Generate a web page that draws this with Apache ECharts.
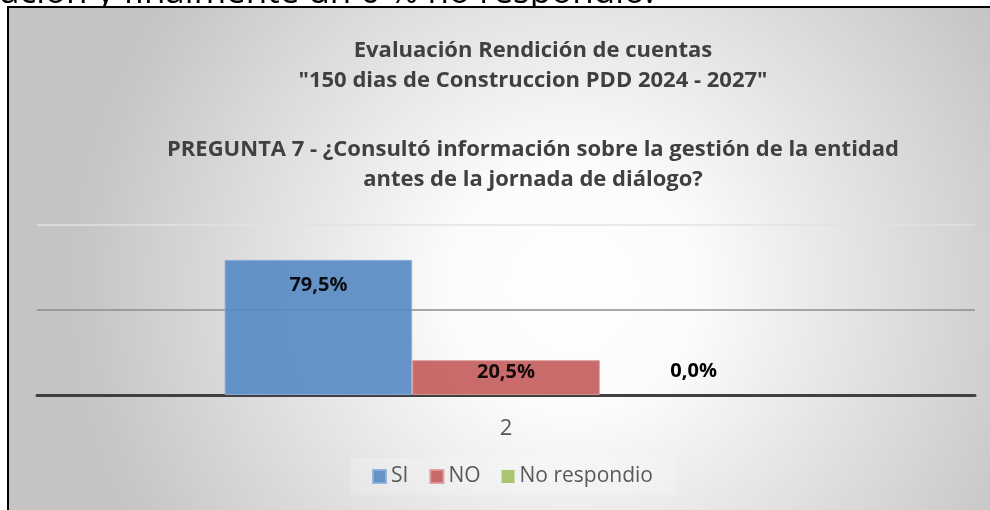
<!doctype html>
<html>
    <head>
        <meta charset="utf-8">
        <title>Pregunta 7 - ECHARTS</title>
        <style>
            html, body { margin: 0; padding: 0; background: #fff; }
            #main { width: 990px; height: 510px; }
        </style>
    </head>
    <body>
        <div id="main"></div>
        <script src="https://cdn.jsdelivr.net/npm/echarts@6/dist/echarts.min.js"></script>
        <script>
            var categories = ['2'];
            var seriesNames = ['SI', 'NO', 'No respondio'];
            var siValues = [79.5];
            var noValues = [20.5];
            var nrValues = [0];
            var yTicks = [0, 50, 100];

            var titleLines = [
                'Evaluación Rendición de cuentas',
                '"150 dias de Construccion PDD 2024 - 2027"',
                'PREGUNTA 7 - ¿Consultó información sobre la gestión de la entidad',
                'antes de la jornada de diálogo?'
            ];
            var topText = 'ación y finalmente un 0 % no respondio.';

            var FONT = "'Open Sans', sans-serif";
            var chart = echarts.init(document.getElementById('main'));

            function pct(p) {
                return p.value.toFixed(1).replace('.', ',') + '%';
            }

            function labelOf(pos, dist) {
                return {
                    show: true,
                    position: pos,
                    distance: dist,
                    formatter: pct,
                    color: '#000',
                    fontWeight: 'bold',
                    fontSize: 20,
                    fontFamily: FONT
                };
            }

            var titleY = [51, 81, 150, 180];

            chart.setOption({
                textStyle: { fontFamily: FONT },
                color: ['#5789c3', '#c35a5b', '#a9c56f'],
                graphic: {
                    elements: [{
                        type: 'text',
                        z: -20,
                        x: 0,
                        y: 11,
                        style: {
                            text: topText,
                            font: '35px ' + FONT,
                            fill: '#000',
                            textVerticalAlign: 'bottom'
                        }
                    }, {
                        type: 'rect',
                        z: -10,
                        shape: { x: 8, y: 7, width: 990, height: 510 },
                        style: {
                            fill: {
                                type: 'radial', x: 0.57, y: 0.55, r: 1.0,
                                colorStops: [
                                    { offset: 0, color: '#ffffff' },
                                    { offset: 0.25, color: '#fbfbfb' },
                                    { offset: 0.95, color: '#c6c6c6' },
                                    { offset: 1, color: '#c4c4c4' }
                                ]
                            },
                            stroke: '#000',
                            lineWidth: 2
                        }
                    }].concat(titleLines.map(function (t, i) {
                        return {
                            type: 'text',
                            z: 10,
                            x: 533,
                            y: titleY[i],
                            style: {
                                text: t,
                                font: 'bold 22px ' + FONT,
                                fill: '#404040',
                                textAlign: 'center',
                                textVerticalAlign: 'middle'
                            }
                        };
                    }))
                },
                grid: { left: 37, right: 15, top: 225, bottom: 115 },
                legend: {
                    data: seriesNames,
                    left: 350,
                    top: 458,
                    padding: [8, 22, 8, 22],
                    backgroundColor: 'rgba(255,255,255,0.2)',
                    itemWidth: 13,
                    itemHeight: 13,
                    itemGap: 21,
                    icon: 'rect',
                    textStyle: { color: '#595959', fontSize: 21, fontFamily: FONT }
                },
                xAxis: {
                    type: 'category',
                    data: categories,
                    axisTick: { show: false },
                    axisLine: { lineStyle: { color: '#404040', width: 3 } },
                    axisLabel: { color: '#595959', fontSize: 22, margin: 23 }
                },
                yAxis: {
                    type: 'value',
                    min: yTicks[0],
                    max: yTicks[yTicks.length - 1],
                    interval: 50,
                    axisLabel: { show: false },
                    axisLine: { show: false },
                    axisTick: { show: false },
                    splitLine: { lineStyle: { color: ['#404040', '#8c8c8c', '#e2e2e2'], width: 1.5 } }
                },
                series: [{
                    name: seriesNames[0],
                    type: 'bar',
                    data: siValues,
                    barGap: '0%',
                    barCategoryGap: '40%',
                    itemStyle: { opacity: 0.9, borderColor: '#8fb0da', borderWidth: 1 },
                    label: labelOf('insideTop', 15)
                }, {
                    name: seriesNames[1],
                    type: 'bar',
                    data: noValues,
                    itemStyle: { opacity: 0.9, borderColor: '#dc9a9a', borderWidth: 1 },
                    label: labelOf('insideTop', 2)
                }, {
                    name: seriesNames[2],
                    type: 'bar',
                    data: nrValues,
                    label: labelOf('top', 14)
                }]
            });

            window.addEventListener('resize', function () {
                chart.resize();
            });
        </script>
    </body>
</html>
